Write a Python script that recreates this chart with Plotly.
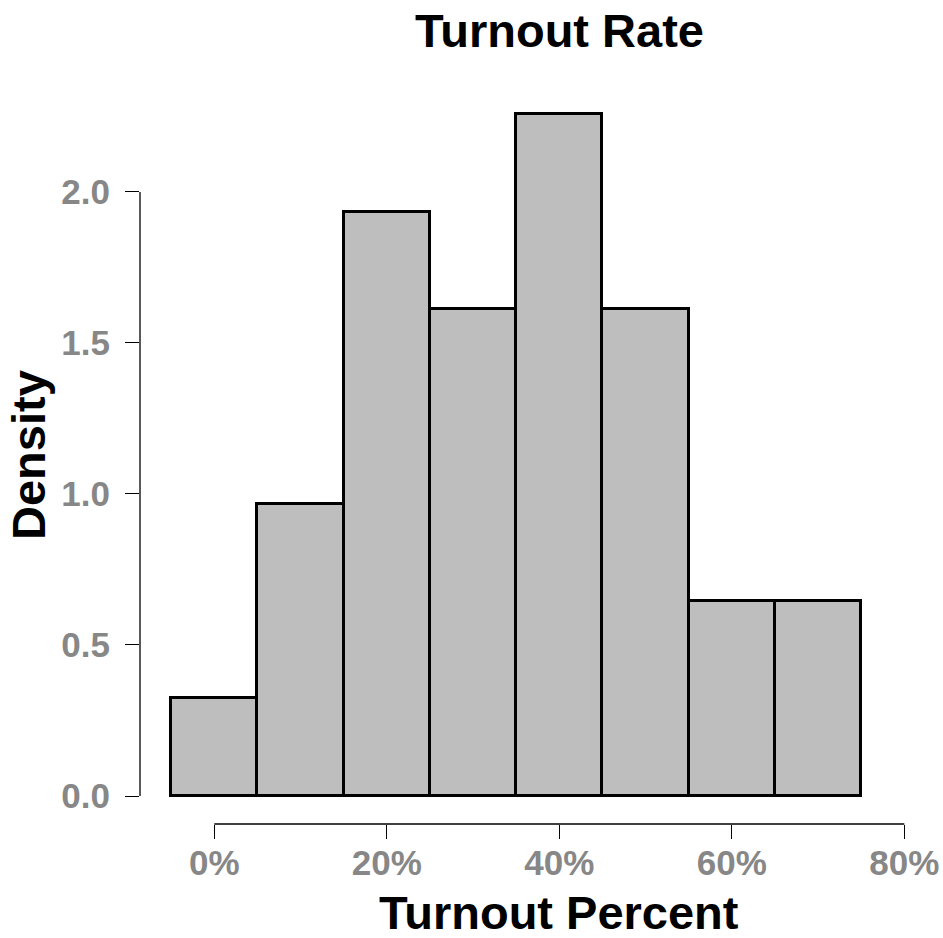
import plotly.graph_objects as go

# Data (density histogram, bins of width 0.1 centred on each value)
bin_centers = [0.0, 0.1, 0.2, 0.3, 0.4, 0.5, 0.6, 0.7]
density = [0.323, 0.968, 1.935, 1.613, 2.258, 1.613, 0.645, 0.645]
bin_width = 0.1

x_tickvals = [0.0, 0.2, 0.4, 0.6, 0.8]
x_ticktext = ["0%", "20%", "40%", "60%", "80%"]
y_tickvals = [0.0, 0.5, 1.0, 1.5, 2.0]
y_ticktext = ["0.0", "0.5", "1.0", "1.5", "2.0"]

FONT = "Liberation Sans, Arial, Helvetica, sans-serif"
GRAY = "#878787"

fig = go.Figure()
fig.add_trace(go.Bar(
    x=bin_centers, y=density, width=[bin_width] * len(bin_centers),
    marker=dict(color="#BEBEBE", line=dict(color="black", width=3)),
    showlegend=False, hoverinfo="skip",
))

W, H = 943, 938
L, R, T, B = 140, 11, 88, 114
ph = H - T - B

def py(pix):
    return (H - B - pix) / ph

def px(pix):
    return (pix - L) / (W - L - R)

fig.update_layout(
    width=W, height=H,
    margin=dict(l=L, r=R, t=T, b=B, pad=0, autoexpand=False),
    paper_bgcolor="white", plot_bgcolor="white",
    font=dict(family=FONT),
    bargap=0,
    xaxis=dict(
        range=[-0.0861, 0.8321], showgrid=False, zeroline=False, showline=False,
        automargin=False,
        tickmode="array", tickvals=x_tickvals, ticktext=x_ticktext,
        ticks="outside", ticklen=14, tickwidth=1.3, tickcolor="black",
        tickfont=dict(family=FONT, size=35, color=GRAY, weight="bold"),
        ticklabelstandoff=-6,
    ),
    yaxis=dict(
        range=[-0.0927, 2.344], showgrid=False, zeroline=False, showline=False,
        automargin=False,
        tickmode="array", tickvals=y_tickvals, ticktext=y_ticktext,
        ticks="outside", ticklen=14, tickwidth=1.3, tickcolor="black",
        tickfont=dict(family=FONT, size=35, color=GRAY, weight="bold"),
        ticklabelstandoff=8,
    ),
    shapes=[
        dict(type="line", xref="paper", yref="y", x0=0, x1=0,
             y0=y_tickvals[0], y1=y_tickvals[-1], line=dict(color="black", width=1.3)),
        dict(type="line", xref="x", yref="paper", x0=x_tickvals[0], x1=x_tickvals[-1],
             y0=0, y1=0, line=dict(color="black", width=1.3)),
    ],
    annotations=[
        dict(text="Turnout Rate", xref="x", yref="paper", x=0.4, y=py(30),
             xanchor="center", yanchor="middle", showarrow=False,
             font=dict(family=FONT, size=47, color="black", weight="bold")),
        dict(text="Turnout Percent", xref="x", yref="paper", x=0.4, y=py(912),
             xanchor="center", yanchor="middle", showarrow=False,
             font=dict(family=FONT, size=47, color="black", weight="bold")),
        dict(text="Density", xref="paper", yref="paper", x=px(28), y=py(455),
             xanchor="center", yanchor="middle", textangle=-90, showarrow=False,
             font=dict(family=FONT, size=47, color="black", weight="bold")),
    ],
)

fig.write_html("out.html")
